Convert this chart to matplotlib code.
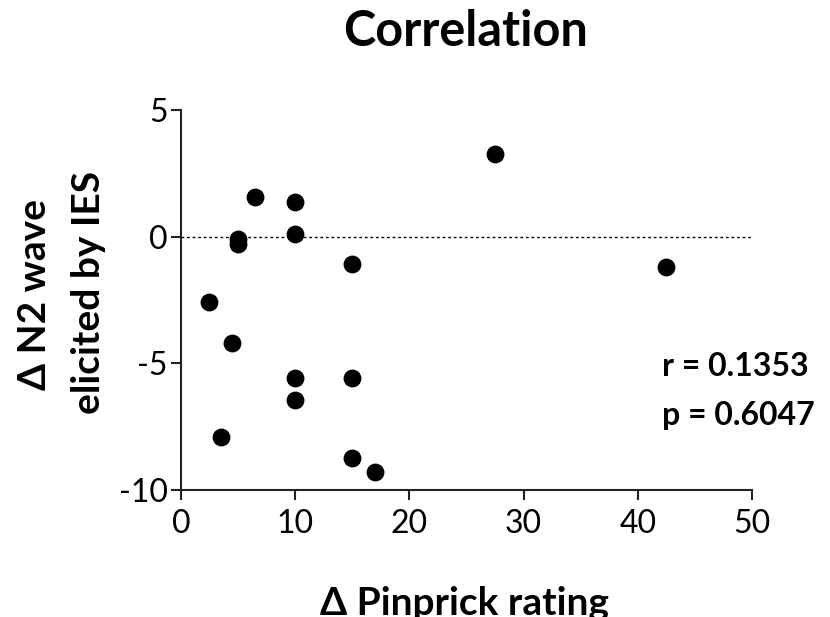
import matplotlib.pyplot as plt

plt.rcParams["font.family"] = ["Lato", "DejaVu Sans"]
plt.rcParams["axes.unicode_minus"] = False

# Data
pinprick = [27.5, 6.5, 10, 10, 5, 5, 15, 42.5, 2.5, 4.5, 10, 15, 10, 3.5, 15, 17]
n2_wave = [3.25, 1.55, 1.35, 0.1, -0.1, -0.3, -1.1, -1.2, -2.6, -4.2, -5.6, -5.6, -6.45, -7.9, -8.75, -9.3]
x_ticks = [0, 10, 20, 30, 40, 50]
y_ticks = [-10, -5, 0, 5]
stats_text = ["r = 0.1353", "p = 0.6047"]

fig = plt.figure(figsize=(8.3, 6.17), dpi=100)
ax = fig.add_axes([0.218, 0.206, 0.688, 0.616])

ax.scatter(pinprick, n2_wave, s=140, color="black", zorder=3)
ax.axhline(0, color="black", linestyle=(0, (2, 2)), linewidth=1, zorder=2)

ax.set_xlim(0, 50)
ax.set_ylim(-10, 5)
ax.set_xticks(x_ticks)
ax.set_yticks(y_ticks)
ax.spines["top"].set_visible(False)
ax.spines["right"].set_visible(False)
for sp in ["left", "bottom"]:
    ax.spines[sp].set_linewidth(1.5)
    ax.spines[sp].set_color("#222222")
ax.tick_params(direction="out", length=7.5, width=1.5, labelsize=23, colors="#222222",
               labelcolor="black")
ax.tick_params(axis="x", pad=6)
ax.tick_params(axis="y", pad=2)

# title and axis labels placed in figure coordinates
fig.text(466 / 830, 1 - 31 / 617, "Correlation", fontsize=35, fontweight="bold",
         ha="center", va="center")
fig.text(35 / 830, 1 - 295 / 617, "Δ N2 wave", fontsize=28, fontweight="bold",
         rotation=90, ha="center", va="center")
fig.text(89 / 830, 1 - 292 / 617, "elicited by IES", fontsize=28, fontweight="bold",
         rotation=90, ha="center", va="center")
fig.text(464 / 830, 1 - 615 / 617, "Δ Pinprick rating", fontsize=28, fontweight="bold",
         ha="center", va="baseline")

fig.text(662 / 830, 1 - 367 / 617, stats_text[0], fontsize=23, fontweight="bold",
         ha="left", va="center")
fig.text(662 / 830, 1 - 415 / 617, stats_text[1], fontsize=23, fontweight="bold",
         ha="left", va="center")

fig.savefig("out.png", dpi=100)
